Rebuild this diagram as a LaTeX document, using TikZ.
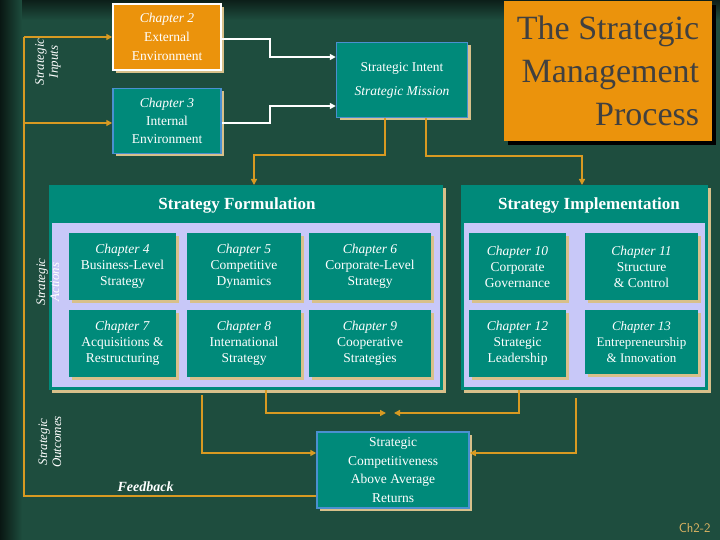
\documentclass[tikz,border=0pt]{standalone}
\usepackage{fontspec}
\setmainfont{Liberation Serif}
\usetikzlibrary{shadows,arrows.meta}
\definecolor{bg}{HTML}{1E4D3E}
\definecolor{teal}{HTML}{008A7A}
\definecolor{org}{HTML}{EB930C}
\definecolor{gold}{HTML}{D89A22}
\definecolor{tanc}{HTML}{D8C08A}
\definecolor{lav}{HTML}{C8C8F8}
\definecolor{bord}{HTML}{4A90D0}
\tikzset{
 sh/.style={drop shadow={fill=tanc,shadow xshift=3pt,shadow yshift=-3pt,opacity=1}},
 chap/.style={sh,fill=teal,text=white,align=center,font=\fontsize{13.5}{16}\selectfont,inner sep=1pt},
 top/.style={sh,align=center,text=white,line width=1.5pt,font=\fontsize{13.5}{19}\selectfont},
 garr/.style={gold,line width=2.2pt,-{Triangle[length=6pt,width=6pt]}},
 gline/.style={gold,line width=2.2pt},
 warr/.style={white,line width=2.2pt,-{Triangle[length=6pt,width=6pt]}},
 side/.style={rotate=90,text=white,align=center,font=\fontsize{13}{14}\selectfont\itshape},
}
\begin{document}
\begin{tikzpicture}[x=1pt,y=-1pt]
\useasboundingbox (0,0) rectangle (720,540);
\fill[bg] (0,0) rectangle (720,540);
\shade[left color=black!70!bg,right color=bg] (0,0) rectangle (22,540);
\shade[top color=black!60!bg,bottom color=bg] (22,0) rectangle (720,20);
% title
\node[fill=org,drop shadow={fill=black,shadow xshift=4pt,shadow yshift=-4pt,opacity=1},minimum width=208pt,minimum height=140pt,align=right,inner sep=6pt,font=\fontsize{34}{43}\selectfont,text=black!75] (title) at (608,71) {The Strategic\\Management\\Process};
% top boxes
\node[top,fill=org,draw=white,minimum width=108pt,minimum height=66pt] (c2) at (167,37) {\textit{Chapter 2}\\External\\Environment};
\node[top,fill=teal,draw=bord,minimum width=108pt,minimum height=65pt,font=\fontsize{13.5}{18}\selectfont] (c3) at (167,121) {\textit{Chapter 3}\\Internal\\Environment};
\node[top,fill=teal,draw=bord,minimum width=131pt,minimum height=75pt,font=\fontsize{13.5}{24}\selectfont] (si) at (402,80) {Strategic Intent\\\textit{Strategic Mission}};
% formulation
\node[sh,fill=teal,minimum width=394pt,minimum height=205pt,anchor=north west,inner sep=0pt] (form) at (49,185) {};
\fill[lav] (52,223) rectangle (440,387);
\node[text=white,font=\fontsize{17}{20}\selectfont\bfseries] (formt) at (237,205) {Strategy Formulation};
\node[sh,fill=teal,minimum width=247pt,minimum height=205pt,anchor=north west,inner sep=0pt] (impl) at (461,185) {};
\fill[lav] (464,223) rectangle (705,387);
\node[text=white,font=\fontsize{17}{20}\selectfont\bfseries] (implt) at (589,205) {Strategy Implementation};
% chapters
\node[chap,minimum width=107pt,minimum height=67pt] (c4) at (122.5,266.5) {\textit{Chapter 4}\\Business-Level\\Strategy};
\node[chap,minimum width=114pt,minimum height=67pt] (c5) at (244,266.5) {\textit{Chapter 5}\\Competitive\\Dynamics};
\node[chap,minimum width=122pt,minimum height=67pt] (c6) at (370,266.5) {\textit{Chapter 6}\\Corporate-Level\\Strategy};
\node[chap,minimum width=107pt,minimum height=67pt] (c7) at (122.5,343.5) {\textit{Chapter 7}\\Acquisitions \&\\Restructuring};
\node[chap,minimum width=114pt,minimum height=67pt] (c8) at (244,343.5) {\textit{Chapter 8}\\International\\Strategy};
\node[chap,minimum width=122pt,minimum height=67pt] (c9) at (370,343.5) {\textit{Chapter 9}\\Cooperative\\Strategies};
\node[chap,minimum width=97pt,minimum height=67pt] (c10) at (517.5,266.5) {\textit{Chapter 10}\\Corporate\\Governance};
\node[chap,minimum width=113pt,minimum height=67pt] (c11) at (641.5,266.5) {\textit{Chapter 11}\\Structure\\\& Control};
\node[chap,minimum width=97pt,minimum height=67pt] (c12) at (517.5,343.5) {\textit{Chapter 12}\\Strategic\\Leadership};
\node[chap,minimum width=113pt,minimum height=64pt,font=\fontsize{13}{16}\selectfont] (c13) at (641.5,342) {\textit{Chapter 13}\\Entrepreneurship\\\& Innovation};
% outcome
\node[top,fill=teal,draw=bord,minimum width=152pt,minimum height=76pt,inner sep=1pt,font=\fontsize{13.5}{18.5}\selectfont] (out) at (393,470) {Strategic\\Competitiveness\\Above Average\\Returns};
% side labels
\node[side] (sin) at (48,62) {Strategic\\Inputs};
\node[side] (sac) at (48,282) {Strategic\\Actions};
\node[side] (sou) at (50,442) {Strategic\\Outcomes};
\node[text=white,font=\fontsize{14}{16}\selectfont\itshape\bfseries,anchor=west] (fb) at (114,487) {Feedback};
\node[text=gold!70!white,font=\fontsize{13}{15}\selectfont\sffamily,anchor=east] (pg) at (714,528) {Ch2-2};
% connectors
\coordinate (mid) at (390,413);
\draw[gline] (out.west |- 0,496) -- (24,496) -- (24,37);
\draw[garr] (24,37) -- (c2.west);
\draw[garr] (24,123) -- (c3.west |- 0,123);
\draw[warr] (c2.east |- 0,39) -- (270,39) -- (270,57) -- (si.west |- 0,57);
\draw[warr] (c3.east |- 0,123) -- (270,123) -- (270,106) -- (si.west |- 0,106);
\draw[garr] (385,118) -- (385,155) -- (254,155) -- (form.north -| 254,0);
\draw[garr] (426,118) -- (426,156) -- (582,156) -- (impl.north -| 582,0);
\draw[garr] (266,390) -- (266,413) -- ([xshift=-4pt]mid);
\draw[garr] (519,390) -- (519,413) -- ([xshift=4pt]mid);
\draw[garr] (202,395) -- (202,453) -- (out.west |- 0,453);
\draw[garr] (576,398) -- (576,453) -- (out.east |- 0,453);
\end{tikzpicture}
\end{document}
